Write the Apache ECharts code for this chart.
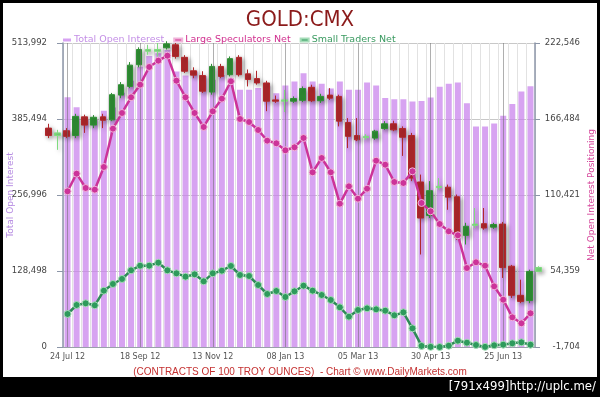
<!DOCTYPE html>
<html>
<head>
<meta charset="utf-8">
<title>GOLD:CMX</title>
<script src="https://cdn.jsdelivr.net/npm/echarts@6/dist/echarts.min.js"></script>
<style>
  html, body { margin: 0; padding: 0; background: #000; }
  #chart { width: 600px; height: 397px; }
</style>
</head>
<body>
<div id="chart"></div>
<script>
// weekly report dates (COT, Tuesdays)
const weeks = [
  '24 Jul 12', '31 Jul 12', '07 Aug 12', '14 Aug 12', '21 Aug 12', '28 Aug 12', '04 Sep 12', '11 Sep 12',
  '18 Sep 12', '25 Sep 12', '02 Oct 12', '09 Oct 12', '16 Oct 12', '23 Oct 12', '30 Oct 12', '06 Nov 12',
  '13 Nov 12', '20 Nov 12', '27 Nov 12', '04 Dec 12', '11 Dec 12', '18 Dec 12', '25 Dec 12', '01 Jan 13',
  '08 Jan 13', '15 Jan 13', '22 Jan 13', '29 Jan 13', '05 Feb 13', '12 Feb 13', '19 Feb 13', '26 Feb 13',
  '05 Mar 13', '12 Mar 13', '19 Mar 13', '26 Mar 13', '02 Apr 13', '09 Apr 13', '16 Apr 13', '23 Apr 13',
  '30 Apr 13', '07 May 13', '14 May 13', '21 May 13', '28 May 13', '04 Jun 13', '11 Jun 13', '18 Jun 13',
  '25 Jun 13', '02 Jul 13', '09 Jul 13', '16 Jul 13'
];
// price candles run two weeks earlier and one week later than the positions
const candleWeeks = ['10 Jul 12', '17 Jul 12'].concat(weeks, ['23 Jul 13']);

const totalOpenInterest = [
  422200, 405300, 384000, 384000, 399500, 405000, 430000, 450000, 474000, 492000,
  496500, 502000, 466000, 459000, 466000, 458000, 452000, 460000, 455000, 435000,
  435000, 438000, 441000, 429000, 442000, 449000, 463000, 449000, 445000, 437000,
  449000, 435000, 435000, 447000, 442000, 421000, 419000, 419000, 415000, 416000,
  422000, 440000, 445000, 447000, 412000, 373000, 373000, 378000, 391000, 411000,
  432000, 441000
];
const largeSpecsNet = [
  113160, 126150, 115590, 114340, 131080, 159340, 170920, 182500, 191800, 204850,
  209500, 213200, 194750, 182500, 170920, 160590, 172160, 181470, 194300, 166490,
  164280, 158380, 150490, 148560, 143400, 145610, 152480, 127170, 137720, 127170,
  104010, 116840, 107700, 115070, 135730, 132780, 120020, 119280, 127900, 104530,
  98400, 89030, 83650, 80700, 56570, 60780, 58270, 43070, 33190, 20200,
  15780, 23160
];
const smallTradersNet = [
  22640, 29280, 30520, 29040, 39850, 44770, 48460, 54860, 58280, 58280,
  60490, 54860, 52640, 50180, 51900, 46740, 52640, 54580, 58050, 51410,
  50670, 44030, 37400, 39610, 35180, 39380, 43520, 39850, 36660, 32970,
  27570, 20670, 25590, 26820, 26080, 25100, 21670, 23880, 12070, -900,
  -1600, -1700, -750, 2970, 1490, -230, -1600, -450, 0, 1020,
  1760, 0
];
// gold price candles: [open, close, low, high]
const goldOHLC = [
  [1604, 1587, 1581, 1614], [1587, 1593, 1554, 1600], [1598, 1585, 1581, 1604], [1587, 1631, 1581, 1637],
  [1630, 1611, 1593, 1635], [1611, 1629, 1604, 1634], [1630, 1622, 1604, 1637], [1623, 1681, 1620, 1685],
  [1680, 1704, 1673, 1710], [1700, 1749, 1696, 1756], [1750, 1785, 1744, 1790], [1781, 1785, 1773, 1796],
  [1781, 1785, 1769, 1800], [1789, 1798, 1785, 1804], [1796, 1769, 1764, 1800], [1767, 1735, 1731, 1772],
  [1736, 1726, 1719, 1744], [1725, 1689, 1685, 1735], [1687, 1746, 1681, 1752], [1746, 1723, 1719, 1752],
  [1727, 1764, 1723, 1769], [1767, 1727, 1723, 1772], [1729, 1716, 1700, 1739], [1718, 1708, 1704, 1736],
  [1708, 1666, 1643, 1713], [1669, 1666, 1662, 1679], [1666, 1669, 1641, 1692], [1666, 1672, 1662, 1677],
  [1668, 1695, 1664, 1700], [1698, 1667, 1664, 1704], [1667, 1677, 1662, 1683], [1680, 1673, 1669, 1696],
  [1677, 1620, 1608, 1681], [1617, 1585, 1558, 1627], [1587, 1577, 1574, 1627], [1582, 1585, 1577, 1590],
  [1581, 1597, 1577, 1600], [1603, 1614, 1600, 1620], [1614, 1600, 1597, 1621], [1603, 1583, 1540, 1608],
  [1587, 1489, 1482, 1593], [1480, 1397, 1313, 1497], [1403, 1460, 1397, 1482], [1467, 1470, 1462, 1489],
  [1468, 1445, 1416, 1474], [1446, 1353, 1347, 1451], [1357, 1378, 1336, 1386], [1380, 1383, 1374, 1420],
  [1384, 1374, 1370, 1420], [1376, 1382, 1372, 1386], [1383, 1283, 1259, 1388], [1286, 1219, 1213, 1289],
  [1219, 1205, 1201, 1255], [1207, 1274, 1201, 1278], [1274, 1283, 1273, 1286]
];
// near-doji weeks drawn in pale green
const paleCandles = [1, 11, 12, 26, 35, 43, 47, 54];
const majorWeeks = weeks.filter((w, i) => i % 8 === 0);

const fmt = v => Math.round(v).toLocaleString('en-US');

const chart = echarts.init(document.getElementById('chart'));
chart.setOption({
  backgroundColor: '#000',
  animation: false,
  graphic: [
    { type: 'rect', z: -10, silent: true, shape: { x: 3, y: 3, width: 594, height: 374 }, style: { fill: '#fff' } },
    { type: 'text', right: 4, top: 380, style: { text: '[791x499]http://uplc.me/', fill: '#fff', font: '13px "DejaVu Sans Condensed"' } }
  ],
  title: [
    { text: 'GOLD:CMX', left: 'center', top: 4,
      textStyle: { color: '#8b1a1a', fontSize: 22, fontWeight: 'normal', fontFamily: 'DejaVu Sans Condensed' } },
    { text: '(CONTRACTS OF 100 TROY OUNCES)  - Chart \u00a9 www.DailyMarkets.com', left: 'center', top: 362,
      textStyle: { color: '#c43030', fontSize: 10, fontWeight: 'normal', fontFamily: 'Liberation Sans' } }
  ],
  legend: {
    left: 58, top: 30, icon: 'rect', itemWidth: 8, itemHeight: 3, itemGap: 9,
    textStyle: { fontSize: 9.5, fontFamily: 'DejaVu Sans', padding: [0, 0, 0, -2] },
    data: [
      { name: 'Total Open Interest', itemStyle: { color: '#d7a2f2' }, textStyle: { color: '#c48fe6' } },
      { name: 'Large Speculators Net', itemStyle: { color: '#d1308f' }, textStyle: { color: '#d1308f' } },
      { name: 'Small Traders Net', itemStyle: { color: '#2e9a5c' }, textStyle: { color: '#3a9a60' } }
    ]
  },
  grid: [
    { left: 63, top: 43, width: 472, height: 304, outerBoundsMode: 'none' },
    { left: 43.8, top: 43, width: 499.4, height: 304, outerBoundsMode: 'none' }
  ],
  xAxis: [
    {
      type: 'category', gridIndex: 0, data: weeks, boundaryGap: true,
      axisLine: { lineStyle: { color: '#9aa0aa' } },
      axisTick: { interval: 0, alignWithLabel: true, length: 4, lineStyle: { color: '#9aa0aa' } },
      axisLabel: { interval: 7, color: '#555', fontSize: 8, fontFamily: 'DejaVu Sans', margin: 6 },
      splitLine: { show: true, interval: 0, lineStyle: { color: '#e2e2e2' } }
    },
    { type: 'category', gridIndex: 1, data: candleWeeks, show: false }
  ],
  yAxis: [
    {
      type: 'value', gridIndex: 0, position: 'left', min: 0, max: 513992, interval: 128498,
      name: 'Total Open Interest', nameLocation: 'middle', nameGap: 48, nameRotate: 90, nameMoveOverlap: false,
      nameTextStyle: { color: '#b68ce2', fontSize: 9, fontFamily: 'DejaVu Sans' },
      axisLine: { show: true, lineStyle: { color: '#8c96a8', width: 1.5 } },
      axisTick: { show: true, length: 6, lineStyle: { color: '#8c96a8' } },
      axisLabel: { formatter: fmt, color: '#444', fontSize: 8.5, fontFamily: 'DejaVu Sans', margin: 16 },
      splitLine: { lineStyle: { color: '#c8c8c8' } }
    },
    {
      type: 'value', gridIndex: 0, position: 'right', min: -1704, max: 222546, interval: 56062.5,
      name: 'Net Open Interest Positioning', nameLocation: 'middle', nameGap: 52, nameRotate: 90, nameMoveOverlap: false,
      nameTextStyle: { color: '#d6489c', fontSize: 9, fontFamily: 'DejaVu Sans' },
      axisLine: { show: true, lineStyle: { color: '#8c96a8', width: 1.5 } },
      axisTick: { show: true, length: 5, lineStyle: { color: '#8c96a8' } },
      axisLabel: { formatter: fmt, color: '#444', fontSize: 8.5, fontFamily: 'DejaVu Sans', margin: 45, align: 'right' },
      splitLine: { show: false }
    },
    { type: 'value', gridIndex: 1, min: 1100, max: 1800, show: false }
  ],
  series: [
    {
      name: 'Total Open Interest', type: 'bar', xAxisIndex: 0, yAxisIndex: 0,
      data: totalOpenInterest, barWidth: 6, z: 1,
      itemStyle: { color: 'rgba(200,128,236,0.72)' },
      markLine: {
        silent: true, symbol: 'none', label: { show: false },
        lineStyle: { color: 'rgba(110,110,110,0.55)', type: 'solid', width: 1 },
        data: majorWeeks.map(w => ({ xAxis: w }))
      }
    },
    {
      name: 'Gold', type: 'candlestick', xAxisIndex: 1, yAxisIndex: 2, barWidth: 6, z: 3, clip: false,
      data: goldOHLC.map((d, k) => paleCandles.includes(k)
        ? { value: d, itemStyle: { color: '#7fdc7f', borderColor: '#7fdc7f', color0: '#7fdc7f', borderColor0: '#7fdc7f' } }
        : d),
      itemStyle: {
        color: '#2f8f34', color0: '#b0282c', borderColor: '#2f8f34', borderColor0: '#b0282c', borderWidth: 1,
        shadowBlur: 4, shadowColor: 'rgba(0,0,0,0.35)', shadowOffsetX: 2, shadowOffsetY: 2
      }
    },
    {
      name: 'Large Speculators Net', type: 'line', xAxisIndex: 0, yAxisIndex: 1, data: largeSpecsNet,
      symbol: 'circle', symbolSize: 7, showAllSymbol: true, z: 5,
      lineStyle: { color: '#cc3399', width: 2.5 },
      itemStyle: { color: '#cc3399', borderColor: '#f0b4da', borderWidth: 1 }
    },
    {
      name: 'Small Traders Net', type: 'line', xAxisIndex: 0, yAxisIndex: 1, data: smallTradersNet,
      symbol: 'circle', symbolSize: 7, showAllSymbol: true, z: 5,
      lineStyle: { color: '#2e8b57', width: 2.5 },
      itemStyle: { color: '#2e9a5c', borderColor: '#a6dcb8', borderWidth: 1 }
    }
  ]
});
</script>
</body>
</html>
